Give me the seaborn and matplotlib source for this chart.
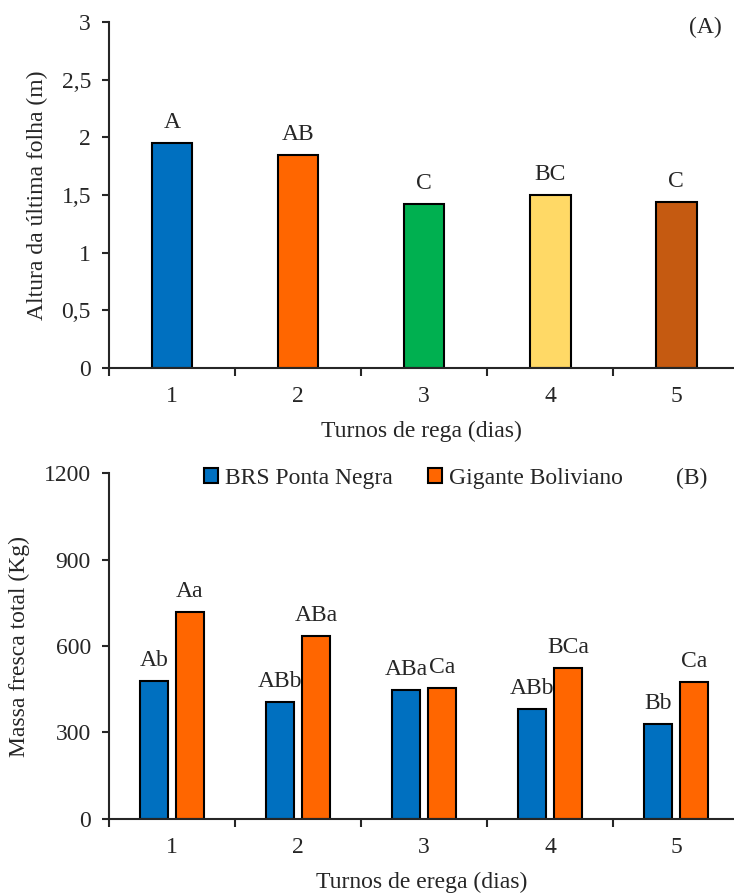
import matplotlib
matplotlib.use('Agg')
import matplotlib.pyplot as plt
import seaborn as sns
import pandas as pd
from matplotlib.ticker import MultipleLocator, FixedLocator, FuncFormatter
from matplotlib.patches import Patch

sns.set_style('white')
plt.rcParams['font.family'] = ['Liberation Serif', 'DejaVu Serif']
FS = 17

# panel A
turnos = ['1', '2', '3', '4', '5']
altura = [1.95, 1.85, 1.42, 1.50, 1.44]
letras_a = ['A', 'AB', 'C', 'BC', 'C']
cores_a = ['#0070C0', '#FF6600', '#00B050', '#FFD966', '#C55A11']

# panel B
cultivares = ['BRS Ponta Negra', 'Gigante Boliviano']
massa_brs = [479, 406, 447, 381, 330]
massa_gig = [718, 635, 454, 524, 475]
letras_brs = ['Ab', 'ABb', 'ABa', 'ABb', 'Bb']
letras_gig = ['Aa', 'ABa', 'Ca', 'BCa', 'Ca']
cores_b = ['#0070C0', '#FF6600']

dfa = pd.DataFrame({'turno': turnos, 'altura': altura})
dfb = pd.DataFrame({
    'turno': turnos * 2,
    'massa': massa_brs + massa_gig,
    'cultivar': [cultivares[0]] * 5 + [cultivares[1]] * 5,
})

fig = plt.figure(figsize=(7.34, 8.94), dpi=100)
axa = fig.add_axes([0.1485, 0.5884, 0.8515, 0.3870])
axb = fig.add_axes([0.1485, 0.0839, 0.8515, 0.3870])

sns.barplot(data=dfa, x='turno', y='altura', hue='turno', palette=cores_a, saturation=1,
            legend=False, width=0.325, edgecolor='black', linewidth=1.5, ax=axa)
for c, lab in zip(axa.containers, letras_a):
    axa.bar_label(c, labels=[lab], padding=7, fontsize=FS)

sns.barplot(data=dfb, x='turno', y='massa', hue='cultivar', palette=cores_b, saturation=1,
            width=0.571, gap=0.2, edgecolor='black', linewidth=1.5, ax=axb)
axb.bar_label(axb.containers[0], labels=letras_brs, padding=7, fontsize=FS)
axb.bar_label(axb.containers[1], labels=letras_gig, padding=7, fontsize=FS)
axb.get_legend().remove()
handles = [Patch(facecolor=c, edgecolor='black', linewidth=1.5) for c in cores_b]
axb.legend(handles, cultivares, loc='center', bbox_to_anchor=(0.487, 0.985),
           ncol=2, frameon=False, fontsize=FS, handlelength=0.6, handleheight=0.6,
           handletextpad=0.3, columnspacing=1.5)

for ax in (axa, axb):
    sns.despine(ax=ax)
    ax.set_xlim(-0.5, 4.46)
    ax.spines['left'].set_linewidth(1.5)
    ax.spines['bottom'].set_linewidth(1.5)
    ax.xaxis.set_minor_locator(FixedLocator([-0.5, 0.5, 1.5, 2.5, 3.5, 4.5]))
    ax.tick_params(axis='x', which='major', length=0, pad=13, labelsize=FS)
    ax.tick_params(axis='x', which='minor', length=6, width=1.5, direction='out', bottom=True)
    ax.tick_params(axis='y', which='major', length=5, width=1.5, direction='out', left=True,
                   pad=8, labelsize=FS)

axa.set_ylim(0, 3)
axa.yaxis.set_major_locator(MultipleLocator(0.5))
axa.yaxis.set_major_formatter(FuncFormatter(lambda v, p: f'{v:g}'.replace('.', ',')))
axa.set_xlabel('Turnos de rega (dias)', fontsize=FS, labelpad=10)
axa.set_ylabel('Altura da última folha (m)', fontsize=FS, labelpad=10)
axa.text(0.955, 0.985, '(A)', transform=axa.transAxes, ha='center', va='center', fontsize=FS)

axb.set_ylim(0, 1200)
axb.yaxis.set_major_locator(MultipleLocator(300))
axb.set_xlabel('Turnos de erega (dias)', fontsize=FS, labelpad=10)
axb.set_ylabel('Massa fresca total (Kg)', fontsize=FS, labelpad=10)
axb.text(0.933, 0.985, '(B)', transform=axb.transAxes, ha='center', va='center', fontsize=FS)

fig.savefig('out.png', dpi=100)
